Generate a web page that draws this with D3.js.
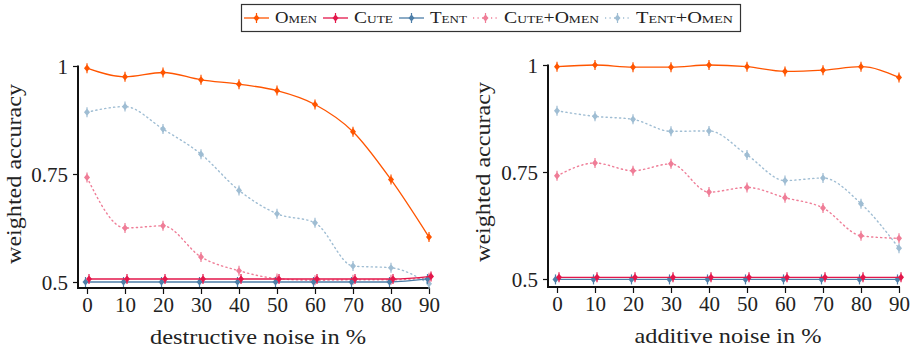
<!DOCTYPE html>
<html>
<head>
<meta charset="utf-8">
<script src="https://cdn.jsdelivr.net/npm/d3@7"></script>
<style>
  html, body { margin: 0; padding: 0; background: #fff; }
  svg { display: block; }
</style>
</head>
<body>
<svg id="chart" width="914" height="352"></svg>
<script>
// Noise levels (percent) shared by both panels
const noiseLevels = [0, 10, 20, 30, 40, 50, 60, 70, 80, 90];
const yTicks = [0.5, 0.75, 1];
const yTickLabels = ["0.5", "0.75", "1"];
const seriesNames = ["Omen", "Cute", "Tent", "Cute+Omen", "Tent+Omen"];

// Destructive noise
const destructiveOmen     = [0.995, 0.975, 0.985, 0.968, 0.958, 0.943, 0.911, 0.848, 0.737, 0.604];
const destructiveCute     = [0.507, 0.507, 0.507, 0.507, 0.507, 0.507, 0.507, 0.507, 0.507, 0.513];
const destructiveTent     = [0.500, 0.500, 0.500, 0.500, 0.500, 0.500, 0.500, 0.500, 0.500, 0.507];
const destructiveCuteOmen = [0.742, 0.625, 0.630, 0.558, 0.526, 0.508, 0.504, 0.505, 0.505, 0.510];
const destructiveTentOmen = [0.893, 0.906, 0.854, 0.796, 0.712, 0.658, 0.637, 0.537, 0.533, 0.496];

// Additive noise
const additiveOmen     = [0.996, 1.000, 0.995, 0.995, 1.000, 0.996, 0.985, 0.988, 0.996, 0.971];
const additiveCute     = [0.504, 0.504, 0.504, 0.504, 0.504, 0.504, 0.504, 0.504, 0.504, 0.504];
const additiveTent     = [0.499, 0.499, 0.499, 0.499, 0.499, 0.499, 0.499, 0.499, 0.499, 0.499];
const additiveCuteOmen = [0.741, 0.771, 0.753, 0.769, 0.703, 0.714, 0.690, 0.666, 0.601, 0.595];
const additiveTentOmen = [0.893, 0.880, 0.873, 0.845, 0.846, 0.790, 0.730, 0.736, 0.676, 0.572];

const xTitles = ["destructive noise in %", "additive noise in %"];
const yTitle = "weighted accuracy";

const FONT = "Liberation Serif";
const INK = "#222";

// Visual style per series (same order as seriesNames)
const styles = [
  { color: "#ff5500", dash: null,      shift: 0 },
  { color: "#e3174b", dash: null,      shift: 2 },
  { color: "#4d7ea8", dash: null,      shift: -1.5 },
  { color: "#ef7d97", dash: "1.2 3.3", shift: 0 },
  { color: "#9fbdd3", dash: "1.2 3.3", shift: 0 }
];

const svg = d3.select("#chart");

// diamond with a short vertical bar through it
function marker(g, x, y, color) {
  g.append("line")
    .attr("x1", x).attr("x2", x).attr("y1", y - 5).attr("y2", y + 5)
    .attr("stroke", color).attr("stroke-width", 1.2);
  g.append("path")
    .attr("d", `M${x},${y - 3.6}L${x + 3},${y}L${x},${y + 3.6}L${x - 3},${y}Z`)
    .attr("fill", color);
}

function drawPanel(cfg, seriesValues, xTitle) {
  const g = svg.append("g");
  const x = d3.scaleLinear().domain([0, 90]).range(cfg.xRange);
  const y = d3.scaleLinear().domain([0.5, 1]).range(cfg.yRange);

  // y axis ticks and labels
  const yAxis = d3.axisLeft(y).tickValues(yTicks).tickSize(5).tickSizeOuter(0)
    .tickFormat((d, i) => yTickLabels[i]);
  const ya = g.append("g").attr("transform", `translate(${cfg.axisX},0)`).call(yAxis)
    .attr("font-family", FONT).attr("font-size", 21);
  ya.select(".domain").remove();
  ya.selectAll(".tick line").attr("stroke", "#111").attr("stroke-width", 1.2);
  ya.selectAll(".tick text").attr("x", -10).attr("dy", "0.34em")
    .attr("font-family", FONT).attr("font-size", 21).attr("fill", INK);

  // x axis ticks and labels
  const xAxis = d3.axisBottom(x).tickValues(noiseLevels).tickSize(6).tickSizeOuter(0);
  const xa = g.append("g").attr("transform", `translate(0,${cfg.axisY})`).call(xAxis)
    .attr("font-family", FONT).attr("font-size", 21);
  xa.select(".domain").remove();
  xa.selectAll(".tick line").attr("stroke", "#111").attr("stroke-width", 1.2);
  xa.selectAll(".tick text").attr("y", 9).attr("dy", "0.71em")
    .attr("font-family", FONT).attr("font-size", 21).attr("fill", INK);

  // axis lines
  g.append("line").attr("x1", cfg.axisX).attr("x2", cfg.axisX)
    .attr("y1", y(1) - 0.5).attr("y2", cfg.axisY + 1)
    .attr("stroke", "#111").attr("stroke-width", 2);
  g.append("line").attr("x1", cfg.axisX - 1).attr("x2", cfg.axisEnd)
    .attr("y1", cfg.axisY).attr("y2", cfg.axisY)
    .attr("stroke", "#111").attr("stroke-width", 2);

  // series: dotted ones first, solid on top
  const order = [4, 3, 0, 2, 1];
  order.forEach(si => {
    const st = styles[si];
    const vals = seriesValues[si];
    const line = d3.line()
      .x((d, i) => x(noiseLevels[i]) + st.shift)
      .y(d => y(d))
      .curve(d3.curveMonotoneX);
    g.append("path").datum(vals)
      .attr("d", line)
      .attr("fill", "none")
      .attr("stroke", st.color)
      .attr("stroke-width", st.dash ? 1.4 : 1.3)
      .attr("stroke-linecap", "round")
      .attr("stroke-dasharray", st.dash);
    const mg = g.append("g");
    vals.forEach((v, i) => marker(mg, x(noiseLevels[i]) + st.shift, y(v), st.color));
  });

  // axis titles
  g.append("text")
    .attr("x", (cfg.xRange[0] + cfg.xRange[1]) / 2).attr("y", cfg.axisY + 56)
    .attr("text-anchor", "middle")
    .attr("font-family", FONT).attr("font-size", 21).attr("fill", INK)
    .attr("textLength", cfg.xTitleLen).attr("lengthAdjust", "spacingAndGlyphs")
    .text(xTitle);
  g.append("text")
    .attr("transform", `translate(${cfg.yTitleX},${(cfg.yRange[0] + cfg.yRange[1]) / 2}) rotate(-90)`)
    .attr("text-anchor", "middle")
    .attr("font-family", FONT).attr("font-size", 21).attr("fill", INK)
    .attr("textLength", 180).attr("lengthAdjust", "spacingAndGlyphs")
    .text(yTitle);
}

drawPanel(
  { axisX: 78, axisY: 288, axisEnd: 430, xRange: [87, 429], yRange: [282, 66], yTitleX: 21, xTitleLen: 216 },
  [destructiveOmen, destructiveCute, destructiveTent, destructiveCuteOmen, destructiveTentOmen],
  xTitles[0]
);
drawPanel(
  { axisX: 548, axisY: 287, axisEnd: 900, xRange: [557, 899], yRange: [279, 65], yTitleX: 490, xTitleLen: 187 },
  [additiveOmen, additiveCute, additiveTent, additiveCuteOmen, additiveTentOmen],
  xTitles[1]
);

// Legend
const legend = svg.append("g");
legend.append("rect")
  .attr("x", 241.5).attr("y", 4.5).attr("width", 499).attr("height", 27)
  .attr("fill", "#fff").attr("stroke", "#333").attr("stroke-width", 1.2);
const legendTextLen = [42, 39, 37, 95, 97];
let lx = 244;
seriesNames.forEach((name, i) => {
  const st = styles[i];
  legend.append("line")
    .attr("x1", lx).attr("x2", lx + 25).attr("y1", 18).attr("y2", 18)
    .attr("stroke", st.color).attr("stroke-width", st.dash ? 1.4 : 1.3)
    .attr("stroke-dasharray", st.dash);
  marker(legend, lx + 12.5, 18, st.color);
  legend.append("text")
    .attr("x", lx + 31).attr("y", 23)
    .attr("font-family", FONT).attr("font-size", 16).attr("fill", INK)
    .style("font-variant", "small-caps")
    .attr("textLength", legendTextLen[i]).attr("lengthAdjust", "spacingAndGlyphs")
    .text(name);
  lx += 31 + legendTextLen[i] + 6;
});
</script>
</body>
</html>
